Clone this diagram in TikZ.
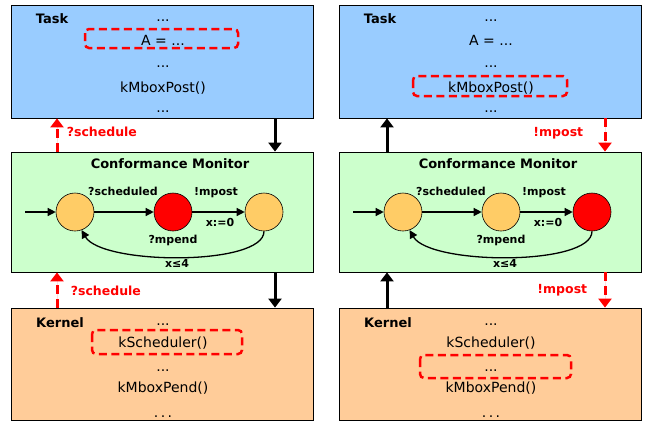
\documentclass[tikz,border=0pt]{standalone}
\usepackage{fontspec}
\setmainfont{DejaVu Sans}
\usetikzlibrary{arrows.meta}

\definecolor{taskblue}{HTML}{99CCFF}
\definecolor{mongreen}{HTML}{CCFFCC}
\definecolor{kernorange}{HTML}{FFCC99}
\definecolor{stateorange}{HTML}{FFCC66}

\begin{document}
\begin{tikzpicture}[x=1pt,y=-1pt,
  panel/.style={draw, line width=0.8pt, inner sep=0pt, minimum width=302pt},
  code/.style={anchor=base, font=\fontsize{14}{16}\selectfont},
  title/.style={anchor=base, font=\bfseries\fontsize{13}{15}\selectfont},
  lbl/.style={anchor=base, font=\bfseries\fontsize{11}{13}\selectfont},
  sig/.style={text=red, font=\bfseries\fontsize{12.5}{14}\selectfont},
  state/.style={circle, draw, line width=0.6pt, minimum size=38pt, inner sep=0pt},
  edge/.style={line width=1.3pt, -{Triangle[length=8pt,width=8pt]}},
  call/.style={line width=3pt, -{Triangle[length=9pt,width=13pt]}},
  redcall/.style={call, draw=red, fill=red, dash pattern=on 9pt off 5pt},
  hilite/.style={draw=red, line width=2.5pt, dash pattern=on 8pt off 4.5pt, rounded corners=4pt}]
\useasboundingbox (0,0) rectangle (647,421);
\foreach \s/\x/\ca/\cb in {L/0/red/stateorange, R/328/stateorange/red} {
  \node[panel, fill=taskblue, minimum height=113pt] (task\s) at (162+\x,61.5) {};
  \node[panel, fill=mongreen, minimum height=120pt] (mon\s) at (162+\x,212) {};
  \node[panel, fill=kernorange, minimum height=112pt] (kern\s) at (162+\x,364) {};
  \node[title] (tasktitle\s) at (52+\x,23) {Task};
  \node[code] (ta\s) at (163+\x,21) {...};
  \node[code] (tb\s) at (163+\x,45) {A = ...};
  \node[code] (tc\s) at (163+\x,67) {...};
  \node[code] (td\s) at (163+\x,92) {kMboxPost()};
  \node[code] (te\s) at (163+\x,112) {...};
  \node[title] (montitle\s) at (170+\x,168) {Conformance Monitor};
  \node[state, fill=stateorange] (s1\s) at (75+\x,212) {};
  \node[state, fill=\ca] (s2\s) at (173+\x,212) {};
  \node[state, fill=\cb] (s3\s) at (264+\x,212) {};
  \coordinate (init\s) at (25+\x,212);
  \draw[edge] (init\s) -- (s1\s);
  \draw[edge] (s1\s) -- (s2\s);
  \draw[edge] (s2\s) -- (s3\s);
  \draw[edge] (s3\s.south) .. controls +(0,35) and +(20,35) .. (s1\s.-70);
  \node[lbl] (la\s) at (123+\x,195) {?scheduled};
  \node[lbl] (lb\s) at (216+\x,195) {!mpost};
  \node[lbl] (lc\s) at (220+\x,226) {x:=0};
  \node[lbl] (ld\s) at (173+\x,243) {?mpend};
  \node[lbl] (le\s) at (177+\x,267) {x≤4};
  \node[title] (kerntitle\s) at (60+\x,327) {Kernel};
  \node[code] (ka\s) at (163+\x,325) {...};
  \node[code] (kb\s) at (163+\x,347) {kScheduler()};
  \node[code] (kc\s) at (163+\x,371) {...};
  \node[code] (kd\s) at (163+\x,392) {kMboxPend()};
  \node[code] (ke\s) at (163+\x,417) {.\,.\,.};
}
\draw[hilite] (85,29) rectangle (238,48);
\draw[hilite] (413,76) rectangle (567,96);
\draw[hilite] (92,330) rectangle (242,354);
\draw[hilite] (420,355) rectangle (571,378);
\path (57,0) coordinate (upL) (275,0) coordinate (downL)
      (387,0) coordinate (upR) (605,0) coordinate (downR);
\draw[redcall] (monL.north -| upL) -- node[sig, pos=0.44, anchor=base west, xshift=5pt] (sigtL) {?schedule} (taskL.south -| upL);
\draw[redcall] (kernL.north -| upL) -- node[sig, pos=0.33, anchor=base west, xshift=9pt] (sigbL) {?schedule} (monL.south -| upL);
\draw[call] (taskL.south -| downL) -- (monL.north -| downL);
\draw[call] (monL.south -| downL) -- (kernL.north -| downL);
\draw[call] (monR.north -| upR) -- (taskR.south -| upR);
\draw[call] (kernR.north -| upR) -- (monR.south -| upR);
\draw[redcall] (taskR.south -| downR) -- node[sig, pos=0.56, anchor=base east, xshift=-17pt] (sigtR) {!mpost} (monR.north -| downR);
\draw[redcall] (monR.south -| downR) -- node[sig, pos=0.61, anchor=base east, xshift=-13pt] (sigbR) {!mpost} (kernR.north -| downR);
\end{tikzpicture}
\end{document}
